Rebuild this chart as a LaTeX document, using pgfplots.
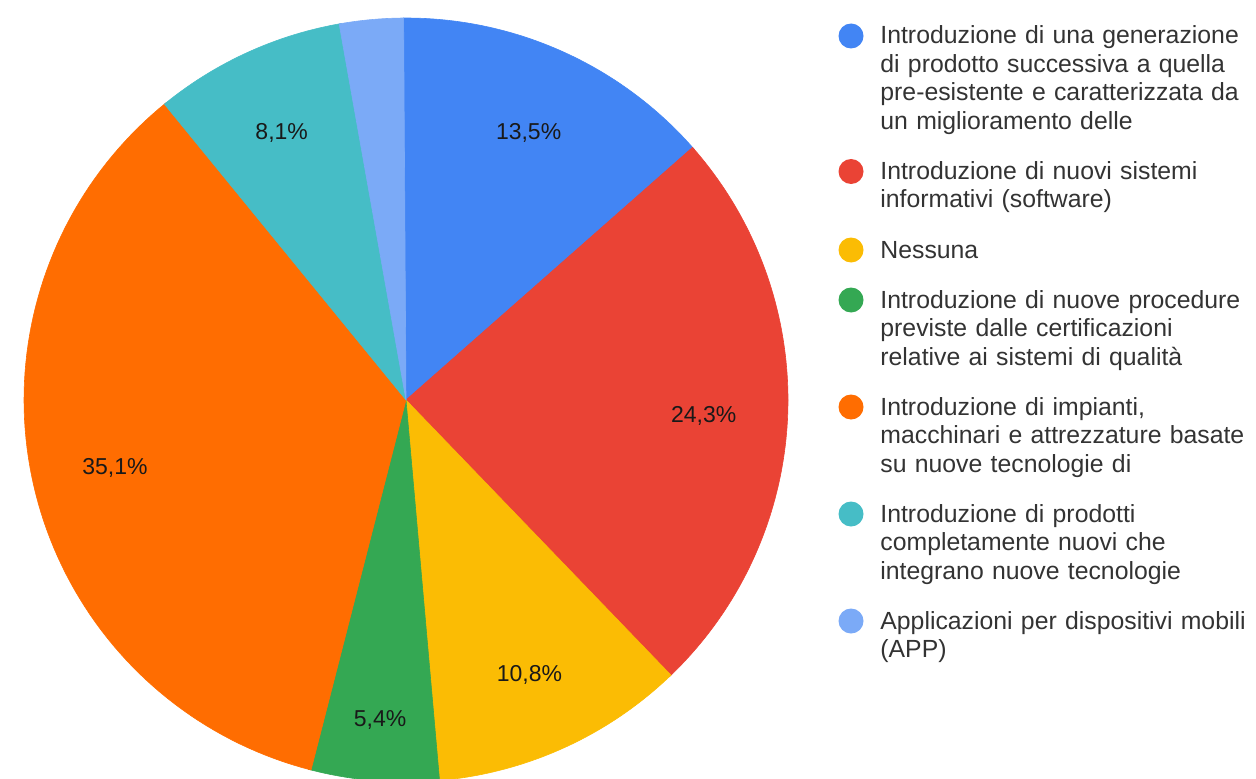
\documentclass[border=0pt]{standalone}
\usepackage{pgfplots}
\pgfplotsset{compat=1.18}
\usepackage{pgfplotstable}
\usepackage{fontspec}
\setmainfont{Liberation Sans}

\definecolor{pie0}{HTML}{4285F4}
\definecolor{pie1}{HTML}{EA4335}
\definecolor{pie2}{HTML}{FBBC04}
\definecolor{pie3}{HTML}{34A853}
\definecolor{pie4}{HTML}{FF6D01}
\definecolor{pie5}{HTML}{46BDC6}
\definecolor{pie6}{HTML}{7BAAF7}
\definecolor{legtext}{HTML}{333333}

% share of answers, percent (clockwise from 12 o'clock)
\pgfplotstableread{
share
13.5
24.3
10.8
5.4
35.1
8.1
2.7
}\piedata

\begin{document}
\begin{tikzpicture}
% start, end and middle angle of every slice
\xdef\runangle{90}
\pgfplotsforeachungrouped \i in {0,...,6}{%
  \pgfplotstablegetelem{\i}{share}\of\piedata
  \pgfmathsetmacro\endangle{\runangle-3.6*\pgfplotsretval}
  \pgfmathsetmacro\midangle{(\runangle+\endangle)/2}
  \expandafter\xdef\csname pieA\i\endcsname{\runangle}
  \expandafter\xdef\csname pieB\i\endcsname{\endangle}
  \expandafter\xdef\csname pieM\i\endcsname{\midangle}
  \xdef\runangle{\endangle}
}
\path[use as bounding box] (0,0) rectangle (628pt,389pt);
\begin{axis}[
    at={(203pt,189pt)}, anchor=origin,
    x=191pt, y=191pt,
    xmin=-1, xmax=1, ymin=-1, ymax=1,
    hide axis, clip=false,
]
% each slice reaches a little under the one drawn after it (no white seams)
\pgfplotsinvokeforeach{0,...,5}{
  \addplot[fill=pie#1, draw=pie#1, line width=0.3pt, samples=90,
    domain={\csname pieB#1\endcsname-0.4}:{\csname pieA#1\endcsname+0.4*(#1==0)}]
    ({cos(x)},{sin(x)}) -- (axis cs:0,0) -- cycle;
}
\addplot[fill=pie6, draw=pie6, line width=0.3pt, samples=30,
    domain={\csname pieB6\endcsname}:{\csname pieA6\endcsname}]
    ({cos(x)},{sin(x)}) -- (axis cs:0,0) -- cycle;
% labels; the narrow green slice has its label further out
\pgfplotsinvokeforeach{0,...,5}{
  \node[font=\fontsize{11.5}{13}\selectfont, text=black!90, yshift=-2pt]
    at (axis cs:{(0.78+0.05*(#1==3))*cos(\csname pieM#1\endcsname)},
                {(0.78+0.05*(#1==3))*sin(\csname pieM#1\endcsname)})
    {\pgfplotstablegetelem{#1}{share}\of\piedata
     \pgfmathprintnumber[fixed, fixed zerofill, precision=1, use comma,
       assume math mode=true]{\pgfplotsretval}\%};
}
\end{axis}
% legend
\begin{scope}[every node/.style={anchor=base west, inner sep=0pt, text width=200pt,
    align=left, text=legtext, font=\fontsize{12.4}{14.25}\selectfont}]
\fill[pie0] (425.5pt,371pt) circle (6.25pt);
\node at (440pt,367pt) {Introduzione di una generazione\\di prodotto successiva a quella\\pre-esistente e caratterizzata da\\un miglioramento delle};
\fill[pie1] (425.5pt,303.25pt) circle (6.25pt);
\node at (440pt,299.25pt) {Introduzione di nuovi sistemi\\informativi (software)};
\fill[pie2] (425.5pt,264pt) circle (6.25pt);
\node at (440pt,260pt) {Nessuna};
\fill[pie3] (425.5pt,239pt) circle (6.25pt);
\node at (440pt,235pt) {Introduzione di nuove procedure\\previste dalle certificazioni\\relative ai sistemi di qualità};
\fill[pie4] (425.5pt,185.5pt) circle (6.25pt);
\node at (440pt,181.5pt) {Introduzione di impianti,\\macchinari e attrezzature basate\\su nuove tecnologie di};
\fill[pie5] (425.5pt,132pt) circle (6.25pt);
\node at (440pt,128pt) {Introduzione di prodotti\\completamente nuovi che\\integrano nuove tecnologie};
\fill[pie6] (425.5pt,78.5pt) circle (6.25pt);
\node at (440pt,74.5pt) {Applicazioni per dispositivi mobili\\(APP)};
\end{scope}
\end{tikzpicture}
\end{document}
